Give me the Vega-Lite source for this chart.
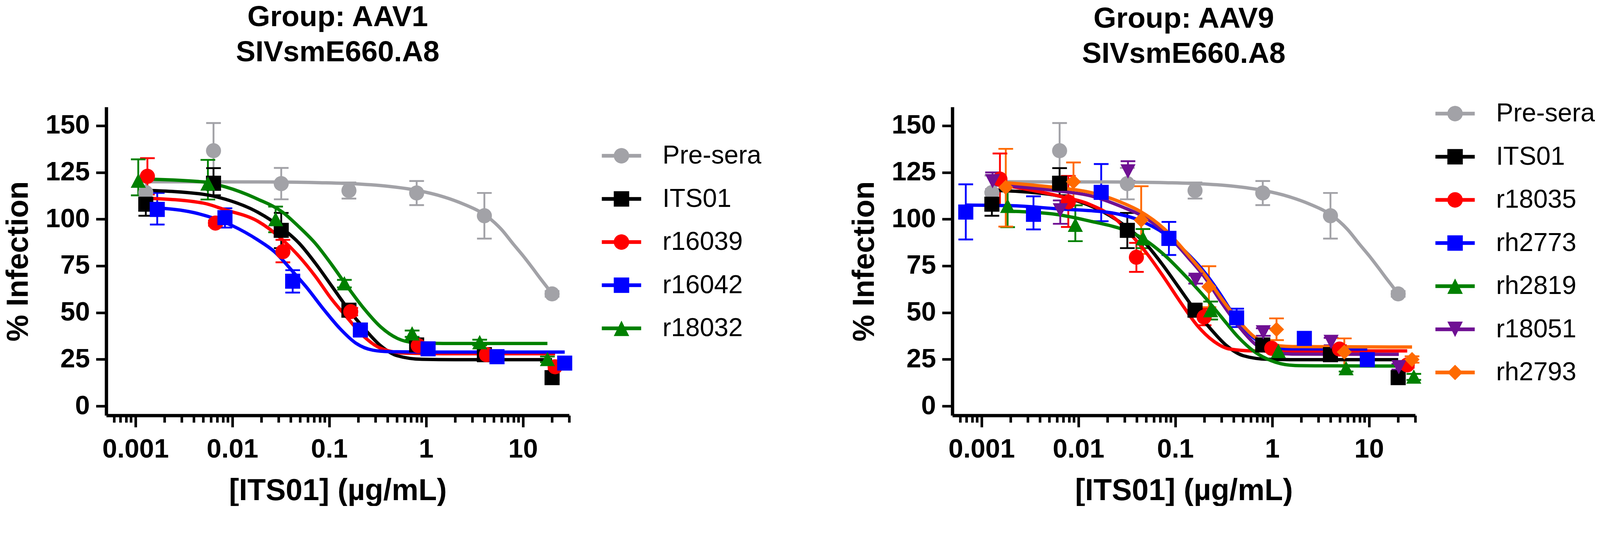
{
  "$schema": "https://vega.github.io/schema/vega-lite/v6.json",
  "background": "white",
  "padding": {"left": 8, "top": 7, "right": 0, "bottom": 0},
  "config": {
    "view": {"stroke": null},
    "font": "Liberation Sans",
    "axis": {
      "grid": false,
      "domainColor": "black",
      "domainWidth": 8.5,
      "tickColor": "black",
      "tickWidth": 6.6,
      "labelFont": "Liberation Sans",
      "labelFontSize": 68,
      "labelFontWeight": "bold",
      "labelColor": "black",
      "labelLimit": 1000,
      "titleFont": "Liberation Sans",
      "titleFontSize": 77,
      "titleFontWeight": "bold",
      "titleColor": "black",
      "titleLimit": 2000
    },
    "axisX": {"tickSize": 30, "labelPadding": 23.5, "titlePadding": 34, "labelFlush": false, "labelOverlap": false},
    "axisY": {"tickSize": 26.3, "labelPadding": 16, "titlePadding": 30},
    "legend": {
      "orient": "none",
      "direction": "vertical",
      "labelFont": "Liberation Sans",
      "labelFontSize": 66,
      "labelColor": "black",
      "labelLimit": 1000,
      "labelOffset": 72,
      "rowPadding": 44.5,
      "padding": 0,
      "symbolSize": 1560,
      "symbolStrokeWidth": 0,
      "symbolOpacity": 1
    }
  },
  "datasets": {
    "pts": [
      {"p": "B", "s": "Pre-sera", "x": 0.00128, "y": 114.2, "lo": 105.5, "hi": 123.3},
      {"p": "B", "s": "Pre-sera", "x": 0.0064, "y": 136.6, "lo": 121.8, "hi": 151.4},
      {"p": "B", "s": "Pre-sera", "x": 0.032, "y": 119.0, "lo": 110.6, "hi": 127.4},
      {"p": "B", "s": "Pre-sera", "x": 0.16, "y": 115.3, "lo": 111.0, "hi": 119.6},
      {"p": "B", "s": "Pre-sera", "x": 0.8, "y": 114.0, "lo": 107.5, "hi": 120.4},
      {"p": "B", "s": "Pre-sera", "x": 4, "y": 101.8, "lo": 89.6, "hi": 114.0},
      {"p": "B", "s": "Pre-sera", "x": 20, "y": 60.0, "lo": 58.5, "hi": 61.5},
      {"p": "B", "s": "ITS01", "x": 0.00128, "y": 108.0, "lo": 101.8, "hi": 114.5},
      {"p": "B", "s": "ITS01", "x": 0.0064, "y": 119.2, "lo": 112.8, "hi": 127.3},
      {"p": "B", "s": "ITS01", "x": 0.032, "y": 94.0, "lo": 84.5, "hi": 103.3},
      {"p": "B", "s": "ITS01", "x": 0.16, "y": 51.3, "lo": 49.3, "hi": 53.3},
      {"p": "B", "s": "ITS01", "x": 0.8, "y": 32.7, "lo": 31.0, "hi": 34.4},
      {"p": "B", "s": "ITS01", "x": 4, "y": 27.5, "lo": 26.0, "hi": 29.0},
      {"p": "B", "s": "ITS01", "x": 20, "y": 15.2, "lo": 13.7, "hi": 16.7},
      {"p": "L", "s": "r16039", "x": 0.00133, "y": 122.9, "lo": 113.2, "hi": 132.6},
      {"p": "L", "s": "r16039", "x": 0.0067, "y": 97.9, "lo": 96.5, "hi": 99.3},
      {"p": "L", "s": "r16039", "x": 0.0333, "y": 82.6, "lo": 76.9, "hi": 88.9},
      {"p": "L", "s": "r16039", "x": 0.167, "y": 50.5, "lo": 48.5, "hi": 52.5},
      {"p": "L", "s": "r16039", "x": 0.83, "y": 32.3, "lo": 31.0, "hi": 33.6},
      {"p": "L", "s": "r16039", "x": 4.2, "y": 27.5, "lo": 26.0, "hi": 29.0},
      {"p": "L", "s": "r16039", "x": 21.5, "y": 21.0, "lo": 19.5, "hi": 22.5},
      {"p": "L", "s": "r16042", "x": 0.00168, "y": 105.2, "lo": 97.1, "hi": 114.0},
      {"p": "L", "s": "r16042", "x": 0.0084, "y": 100.8, "lo": 95.5, "hi": 105.8},
      {"p": "L", "s": "r16042", "x": 0.042, "y": 66.8, "lo": 60.7, "hi": 72.7},
      {"p": "L", "s": "r16042", "x": 0.21, "y": 40.7, "lo": 39.0, "hi": 42.4},
      {"p": "L", "s": "r16042", "x": 1.05, "y": 30.6, "lo": 29.0, "hi": 32.2},
      {"p": "L", "s": "r16042", "x": 5.4, "y": 26.4, "lo": 24.9, "hi": 27.9},
      {"p": "L", "s": "r16042", "x": 27, "y": 23.0, "lo": 21.5, "hi": 24.5},
      {"p": "L", "s": "r18032", "x": 0.00107, "y": 120.4, "lo": 112.7, "hi": 132.0},
      {"p": "L", "s": "r18032", "x": 0.0056, "y": 118.9, "lo": 110.5, "hi": 131.7},
      {"p": "L", "s": "r18032", "x": 0.028, "y": 99.8, "lo": 93.0, "hi": 106.7},
      {"p": "L", "s": "r18032", "x": 0.1436, "y": 65.5, "lo": 63.5, "hi": 67.5},
      {"p": "L", "s": "r18032", "x": 0.718, "y": 38.7, "lo": 37.0, "hi": 40.4},
      {"p": "L", "s": "r18032", "x": 3.58, "y": 34.0, "lo": 32.5, "hi": 35.5},
      {"p": "L", "s": "r18032", "x": 17.9, "y": 25.0, "lo": 23.5, "hi": 26.5},
      {"p": "R", "s": "r18035", "x": 0.00155, "y": 121.4, "lo": 107.4, "hi": 135.1},
      {"p": "R", "s": "r18035", "x": 0.00787, "y": 109.2, "lo": 95.8, "hi": 123.1},
      {"p": "R", "s": "r18035", "x": 0.0397, "y": 79.6, "lo": 71.8, "hi": 87.3},
      {"p": "R", "s": "r18035", "x": 0.1985, "y": 47.6, "lo": 43.2, "hi": 52.0},
      {"p": "R", "s": "r18035", "x": 0.99, "y": 30.9, "lo": 29.0, "hi": 32.8},
      {"p": "R", "s": "r18035", "x": 4.96, "y": 30.5, "lo": 28.5, "hi": 32.5},
      {"p": "R", "s": "r18035", "x": 24.8, "y": 22.0, "lo": 20.5, "hi": 23.5},
      {"p": "R", "s": "rh2773", "x": 0.000688, "y": 103.8, "lo": 89.1, "hi": 118.6},
      {"p": "R", "s": "rh2773", "x": 0.00344, "y": 102.6, "lo": 94.5, "hi": 112.2},
      {"p": "R", "s": "rh2773", "x": 0.0172, "y": 114.3, "lo": 98.9, "hi": 129.5},
      {"p": "R", "s": "rh2773", "x": 0.086, "y": 89.7, "lo": 80.8, "hi": 98.5},
      {"p": "R", "s": "rh2773", "x": 0.43, "y": 47.2, "lo": 42.3, "hi": 52.1},
      {"p": "R", "s": "rh2773", "x": 2.15, "y": 36.2, "lo": 34.5, "hi": 37.9},
      {"p": "R", "s": "rh2773", "x": 9.6, "y": 24.8, "lo": 23.1, "hi": 26.5},
      {"p": "R", "s": "rh2819", "x": 0.00186, "y": 106.9, "lo": 95.7, "hi": 119.6},
      {"p": "R", "s": "rh2819", "x": 0.0093, "y": 96.8, "lo": 88.2, "hi": 107.4},
      {"p": "R", "s": "rh2819", "x": 0.0465, "y": 89.6, "lo": 84.5, "hi": 94.7},
      {"p": "R", "s": "rh2819", "x": 0.232, "y": 51.1, "lo": 46.3, "hi": 55.9},
      {"p": "R", "s": "rh2819", "x": 1.16, "y": 29.3, "lo": 27.6, "hi": 31.0},
      {"p": "R", "s": "rh2819", "x": 5.8, "y": 20.1, "lo": 18.5, "hi": 21.7},
      {"p": "R", "s": "rh2819", "x": 29, "y": 15.6, "lo": 14.0, "hi": 17.2},
      {"p": "R", "s": "r18051", "x": 0.0013, "y": 120.5, "lo": 116.0, "hi": 125.0},
      {"p": "R", "s": "r18051", "x": 0.0065, "y": 104.9, "lo": 97.5, "hi": 110.0},
      {"p": "R", "s": "r18051", "x": 0.0325, "y": 125.7, "lo": 120.4, "hi": 131.0},
      {"p": "R", "s": "r18051", "x": 0.1625, "y": 67.7, "lo": 65.5, "hi": 69.9},
      {"p": "R", "s": "r18051", "x": 0.81, "y": 39.6, "lo": 37.6, "hi": 41.6},
      {"p": "R", "s": "r18051", "x": 4.06, "y": 34.5, "lo": 32.5, "hi": 36.5},
      {"p": "R", "s": "r18051", "x": 20.3, "y": 21.0, "lo": 19.5, "hi": 22.5},
      {"p": "R", "s": "rh2793", "x": 0.00178, "y": 117.0, "lo": 96.0, "hi": 137.6},
      {"p": "R", "s": "rh2793", "x": 0.0089, "y": 120.0, "lo": 109.6, "hi": 130.3},
      {"p": "R", "s": "rh2793", "x": 0.0445, "y": 99.5, "lo": 81.4, "hi": 117.6},
      {"p": "R", "s": "rh2793", "x": 0.2225, "y": 63.8, "lo": 52.9, "hi": 74.8},
      {"p": "R", "s": "rh2793", "x": 1.11, "y": 41.0, "lo": 35.3, "hi": 46.9},
      {"p": "R", "s": "rh2793", "x": 5.56, "y": 28.9, "lo": 21.2, "hi": 36.2},
      {"p": "R", "s": "rh2793", "x": 27.8, "y": 24.9, "lo": 23.2, "hi": 26.6}
    ],
    "fit": [
      {"p": "B", "s": "Pre-sera", "x": 0.00128, "y": 120.0},
      {"p": "B", "s": "Pre-sera", "x": 0.02, "y": 119.9},
      {"p": "B", "s": "Pre-sera", "x": 0.08, "y": 119.5},
      {"p": "B", "s": "Pre-sera", "x": 0.2, "y": 118.8},
      {"p": "B", "s": "Pre-sera", "x": 0.4, "y": 117.6},
      {"p": "B", "s": "Pre-sera", "x": 0.8, "y": 115.4},
      {"p": "B", "s": "Pre-sera", "x": 1.5, "y": 112.0},
      {"p": "B", "s": "Pre-sera", "x": 2.5, "y": 107.8},
      {"p": "B", "s": "Pre-sera", "x": 4, "y": 102.5},
      {"p": "B", "s": "Pre-sera", "x": 6, "y": 94.5},
      {"p": "B", "s": "Pre-sera", "x": 8, "y": 86.5},
      {"p": "B", "s": "Pre-sera", "x": 10, "y": 80.5},
      {"p": "B", "s": "Pre-sera", "x": 12.5, "y": 74.0},
      {"p": "B", "s": "Pre-sera", "x": 15, "y": 68.5},
      {"p": "B", "s": "Pre-sera", "x": 17.5, "y": 64.0},
      {"p": "B", "s": "Pre-sera", "x": 20, "y": 60.0},
      {"p": "B", "s": "ITS01", "x": 0.00128, "y": 115.4},
      {"p": "B", "s": "ITS01", "x": 0.005, "y": 113.3},
      {"p": "B", "s": "ITS01", "x": 0.0084, "y": 110.7},
      {"p": "B", "s": "ITS01", "x": 0.0183, "y": 103.7},
      {"p": "B", "s": "ITS01", "x": 0.0331, "y": 94.9},
      {"p": "B", "s": "ITS01", "x": 0.049, "y": 87.1},
      {"p": "B", "s": "ITS01", "x": 0.0718, "y": 76.5},
      {"p": "B", "s": "ITS01", "x": 0.106, "y": 64.3},
      {"p": "B", "s": "ITS01", "x": 0.157, "y": 51.9},
      {"p": "B", "s": "ITS01", "x": 0.2307, "y": 41.4},
      {"p": "B", "s": "ITS01", "x": 0.341, "y": 32.2},
      {"p": "B", "s": "ITS01", "x": 0.506, "y": 26.9},
      {"p": "B", "s": "ITS01", "x": 0.908, "y": 25.0},
      {"p": "B", "s": "ITS01", "x": 2, "y": 24.8},
      {"p": "B", "s": "ITS01", "x": 20, "y": 24.8},
      {"p": "L", "s": "r16039", "x": 0.00133, "y": 111.2},
      {"p": "L", "s": "r16039", "x": 0.005, "y": 108.6},
      {"p": "L", "s": "r16039", "x": 0.0084, "y": 105.0},
      {"p": "L", "s": "r16039", "x": 0.0183, "y": 98.9},
      {"p": "L", "s": "r16039", "x": 0.0331, "y": 88.9},
      {"p": "L", "s": "r16039", "x": 0.049, "y": 80.0},
      {"p": "L", "s": "r16039", "x": 0.0718, "y": 69.5},
      {"p": "L", "s": "r16039", "x": 0.106, "y": 57.2},
      {"p": "L", "s": "r16039", "x": 0.157, "y": 46.7},
      {"p": "L", "s": "r16039", "x": 0.2307, "y": 37.0},
      {"p": "L", "s": "r16039", "x": 0.341, "y": 30.9},
      {"p": "L", "s": "r16039", "x": 0.614, "y": 28.3},
      {"p": "L", "s": "r16039", "x": 1.5, "y": 28.0},
      {"p": "L", "s": "r16039", "x": 21.5, "y": 28.0},
      {"p": "L", "s": "r16042", "x": 0.00168, "y": 106.0},
      {"p": "L", "s": "r16042", "x": 0.004, "y": 103.5},
      {"p": "L", "s": "r16042", "x": 0.01, "y": 96.5},
      {"p": "L", "s": "r16042", "x": 0.0183, "y": 88.9},
      {"p": "L", "s": "r16042", "x": 0.0272, "y": 82.6},
      {"p": "L", "s": "r16042", "x": 0.0419, "y": 72.1},
      {"p": "L", "s": "r16042", "x": 0.0589, "y": 63.3},
      {"p": "L", "s": "r16042", "x": 0.0873, "y": 51.9},
      {"p": "L", "s": "r16042", "x": 0.129, "y": 41.5},
      {"p": "L", "s": "r16042", "x": 0.1905, "y": 33.5},
      {"p": "L", "s": "r16042", "x": 0.282, "y": 29.9},
      {"p": "L", "s": "r16042", "x": 0.417, "y": 29.1},
      {"p": "L", "s": "r16042", "x": 1, "y": 28.9},
      {"p": "L", "s": "r16042", "x": 27, "y": 28.9},
      {"p": "L", "s": "r18032", "x": 0.00107, "y": 121.5},
      {"p": "L", "s": "r18032", "x": 0.005, "y": 119.9},
      {"p": "L", "s": "r18032", "x": 0.0084, "y": 117.3},
      {"p": "L", "s": "r18032", "x": 0.0183, "y": 110.7},
      {"p": "L", "s": "r18032", "x": 0.0331, "y": 103.7},
      {"p": "L", "s": "r18032", "x": 0.049, "y": 95.8},
      {"p": "L", "s": "r18032", "x": 0.0718, "y": 87.1},
      {"p": "L", "s": "r18032", "x": 0.106, "y": 75.7},
      {"p": "L", "s": "r18032", "x": 0.157, "y": 63.3},
      {"p": "L", "s": "r18032", "x": 0.2307, "y": 51.9},
      {"p": "L", "s": "r18032", "x": 0.341, "y": 42.3},
      {"p": "L", "s": "r18032", "x": 0.506, "y": 36.2},
      {"p": "L", "s": "r18032", "x": 0.743, "y": 34.0},
      {"p": "L", "s": "r18032", "x": 1.5, "y": 33.5},
      {"p": "L", "s": "r18032", "x": 17.9, "y": 33.5},
      {"p": "R", "s": "r18035", "x": 0.00155, "y": 118.5},
      {"p": "R", "s": "r18035", "x": 0.00614, "y": 112.5},
      {"p": "R", "s": "r18035", "x": 0.0133, "y": 107.7},
      {"p": "R", "s": "r18035", "x": 0.0239, "y": 100.3},
      {"p": "R", "s": "r18035", "x": 0.0353, "y": 91.4},
      {"p": "R", "s": "r18035", "x": 0.0522, "y": 80.9},
      {"p": "R", "s": "r18035", "x": 0.0769, "y": 68.6},
      {"p": "R", "s": "r18035", "x": 0.1138, "y": 55.4},
      {"p": "R", "s": "r18035", "x": 0.1679, "y": 43.2},
      {"p": "R", "s": "r18035", "x": 0.2477, "y": 34.8},
      {"p": "R", "s": "r18035", "x": 0.3656, "y": 30.5},
      {"p": "R", "s": "r18035", "x": 0.656, "y": 29.5},
      {"p": "R", "s": "r18035", "x": 24.8, "y": 29.5},
      {"p": "R", "s": "rh2773", "x": 0.000688, "y": 107.5},
      {"p": "R", "s": "rh2773", "x": 0.002, "y": 107.2},
      {"p": "R", "s": "rh2773", "x": 0.00614, "y": 105.5},
      {"p": "R", "s": "rh2773", "x": 0.0197, "y": 103.7},
      {"p": "R", "s": "rh2773", "x": 0.043, "y": 99.3},
      {"p": "R", "s": "rh2773", "x": 0.0769, "y": 92.3},
      {"p": "R", "s": "rh2773", "x": 0.1377, "y": 80.9},
      {"p": "R", "s": "rh2773", "x": 0.2032, "y": 71.2},
      {"p": "R", "s": "rh2773", "x": 0.2999, "y": 58.9},
      {"p": "R", "s": "rh2773", "x": 0.3656, "y": 51.9},
      {"p": "R", "s": "rh2773", "x": 0.4446, "y": 45.8},
      {"p": "R", "s": "rh2773", "x": 0.656, "y": 36.2},
      {"p": "R", "s": "rh2773", "x": 0.966, "y": 31.6},
      {"p": "R", "s": "rh2773", "x": 1.5, "y": 30.6},
      {"p": "R", "s": "rh2773", "x": 9.6, "y": 30.5},
      {"p": "R", "s": "rh2819", "x": 0.00186, "y": 104.3},
      {"p": "R", "s": "rh2819", "x": 0.00614, "y": 102.4},
      {"p": "R", "s": "rh2819", "x": 0.0133, "y": 98.9},
      {"p": "R", "s": "rh2819", "x": 0.0269, "y": 95.0},
      {"p": "R", "s": "rh2819", "x": 0.043, "y": 90.6},
      {"p": "R", "s": "rh2819", "x": 0.0769, "y": 80.9},
      {"p": "R", "s": "rh2819", "x": 0.1377, "y": 67.7},
      {"p": "R", "s": "rh2819", "x": 0.2032, "y": 58.1},
      {"p": "R", "s": "rh2819", "x": 0.2999, "y": 47.6},
      {"p": "R", "s": "rh2819", "x": 0.4446, "y": 37.0},
      {"p": "R", "s": "rh2819", "x": 0.656, "y": 29.1},
      {"p": "R", "s": "rh2819", "x": 0.966, "y": 24.4},
      {"p": "R", "s": "rh2819", "x": 1.734, "y": 21.7},
      {"p": "R", "s": "rh2819", "x": 4, "y": 21.5},
      {"p": "R", "s": "rh2819", "x": 29, "y": 21.4},
      {"p": "R", "s": "r18051", "x": 0.0013, "y": 118.5},
      {"p": "R", "s": "r18051", "x": 0.00614, "y": 115.1},
      {"p": "R", "s": "r18051", "x": 0.0133, "y": 112.5},
      {"p": "R", "s": "r18051", "x": 0.0291, "y": 106.3},
      {"p": "R", "s": "r18051", "x": 0.043, "y": 102.4},
      {"p": "R", "s": "r18051", "x": 0.0769, "y": 93.2},
      {"p": "R", "s": "r18051", "x": 0.1377, "y": 79.1},
      {"p": "R", "s": "r18051", "x": 0.2032, "y": 68.6},
      {"p": "R", "s": "r18051", "x": 0.2999, "y": 55.4},
      {"p": "R", "s": "r18051", "x": 0.4446, "y": 43.2},
      {"p": "R", "s": "r18051", "x": 0.656, "y": 33.5},
      {"p": "R", "s": "r18051", "x": 0.966, "y": 28.7},
      {"p": "R", "s": "r18051", "x": 1.734, "y": 27.8},
      {"p": "R", "s": "r18051", "x": 20.3, "y": 27.7},
      {"p": "R", "s": "rh2793", "x": 0.00178, "y": 119.5},
      {"p": "R", "s": "rh2793", "x": 0.00614, "y": 116.8},
      {"p": "R", "s": "rh2793", "x": 0.0133, "y": 114.3},
      {"p": "R", "s": "rh2793", "x": 0.0291, "y": 108.5},
      {"p": "R", "s": "rh2793", "x": 0.043, "y": 104.3},
      {"p": "R", "s": "rh2793", "x": 0.0769, "y": 94.8},
      {"p": "R", "s": "rh2793", "x": 0.1377, "y": 80.5},
      {"p": "R", "s": "rh2793", "x": 0.2032, "y": 70.0},
      {"p": "R", "s": "rh2793", "x": 0.2999, "y": 57.5},
      {"p": "R", "s": "rh2793", "x": 0.4446, "y": 46.0},
      {"p": "R", "s": "rh2793", "x": 0.656, "y": 37.0},
      {"p": "R", "s": "rh2793", "x": 0.966, "y": 32.8},
      {"p": "R", "s": "rh2793", "x": 1.734, "y": 31.8},
      {"p": "R", "s": "rh2793", "x": 27.8, "y": 31.6}
    ]
  },
  "spacing": 224,
  "resolve": {"scale": {"color": "independent", "shape": "independent"}, "legend": {"color": "independent", "shape": "independent"}},
  "hconcat": [
    {
      "width": 1185,
      "height": 790,
      "title": {"text": ["Group: AAV1", "SIVsmE660.A8"], "fontSize": 75, "font": "Liberation Sans", "fontWeight": "bold", "lineHeight": 90, "anchor": "middle", "frame": "group", "baseline": "bottom", "offset": 26, "color": "black"},
      "resolve": {"scale": {"color": "independent", "shape": "independent"}},
      "layer": [
        {
          "data": {"name": "pts"},
          "transform": [{"filter": "datum.p === 'B' || datum.p === 'L'"}],
          "mark": {"type": "rule", "strokeWidth": 4.7},
          "encoding": {
            "x": {"field": "x", "type": "quantitative", "title": "[ITS01] (µg/mL)", "scale": {"type": "log", "domain": [0.0005, 30], "nice": false},
              "axis": {
                "values": [0.0006, 0.0007, 0.0008, 0.0009, 0.001, 0.002, 0.003, 0.004, 0.005, 0.006, 0.007, 0.008, 0.009, 0.01, 0.02, 0.03, 0.04, 0.05, 0.06, 0.07, 0.08, 0.09, 0.1, 0.2, 0.3, 0.4, 0.5, 0.6, 0.7, 0.8, 0.9, 1, 2, 3, 4, 5, 6, 7, 8, 9, 10, 20, 30],
                "labelExpr": "indexof([0.001, 0.01, 0.1, 1, 10], datum.value) >= 0 ? format(datum.value, '~g') : ''",
                "tickDash": {"condition": {"test": "indexof([0.001, 0.01, 0.1, 1, 10], datum.value) >= 0", "value": []}, "value": [18, 60]}
              }},
            "y": {"field": "lo", "type": "quantitative", "title": "% Infection", "scale": {"domain": [-5, 160], "nice": false, "zero": false}, "axis": {"values": [0, 25, 50, 75, 100, 125, 150]}},
            "y2": {"field": "hi"},
            "color": {"field": "s", "type": "nominal", "legend": null, "scale": {"domain": ["Pre-sera", "ITS01", "r16039", "r16042", "r18032"], "range": ["#a2a2a7", "#000000", "#ff0000", "#0000ff", "#008000"]}}
          }
        },
        {
          "data": {"name": "pts"},
          "transform": [{"filter": "datum.p === 'B' || datum.p === 'L'"}],
          "mark": {"type": "tick", "orient": "horizontal", "size": 37.6, "thickness": 4.7, "opacity": 1},
          "encoding": {
            "x": {"field": "x", "type": "quantitative", "title": "[ITS01] (µg/mL)", "scale": {"type": "log", "domain": [0.0005, 30], "nice": false}},
            "y": {"field": "lo", "type": "quantitative", "title": "% Infection", "scale": {"domain": [-5, 160], "nice": false, "zero": false}},
            "color": {"field": "s", "type": "nominal", "legend": null, "scale": {"domain": ["Pre-sera", "ITS01", "r16039", "r16042", "r18032"], "range": ["#a2a2a7", "#000000", "#ff0000", "#0000ff", "#008000"]}}
          }
        },
        {
          "data": {"name": "pts"},
          "transform": [{"filter": "datum.p === 'B' || datum.p === 'L'"}],
          "mark": {"type": "tick", "orient": "horizontal", "size": 37.6, "thickness": 4.7, "opacity": 1},
          "encoding": {
            "x": {"field": "x", "type": "quantitative", "title": "[ITS01] (µg/mL)", "scale": {"type": "log", "domain": [0.0005, 30], "nice": false}},
            "y": {"field": "hi", "type": "quantitative", "title": "% Infection", "scale": {"domain": [-5, 160], "nice": false, "zero": false}},
            "color": {"field": "s", "type": "nominal", "legend": null, "scale": {"domain": ["Pre-sera", "ITS01", "r16039", "r16042", "r18032"], "range": ["#a2a2a7", "#000000", "#ff0000", "#0000ff", "#008000"]}}
          }
        },
        {
          "data": {"name": "fit"},
          "transform": [{"filter": "datum.p === 'B' || datum.p === 'L'"}],
          "mark": {"type": "line", "strokeWidth": 8.5, "interpolate": "monotone"},
          "encoding": {
            "x": {"field": "x", "type": "quantitative", "title": "[ITS01] (µg/mL)", "scale": {"type": "log", "domain": [0.0005, 30], "nice": false}},
            "y": {"field": "y", "type": "quantitative", "title": "% Infection", "scale": {"domain": [-5, 160], "nice": false, "zero": false}},
            "color": {"field": "s", "type": "nominal", "legend": null, "scale": {"domain": ["Pre-sera", "ITS01", "r16039", "r16042", "r18032"], "range": ["#a2a2a7", "#000000", "#ff0000", "#0000ff", "#008000"]}}
          }
        },
        {
          "data": {"name": "pts"},
          "transform": [{"filter": "datum.p === 'B' || datum.p === 'L'"}],
          "mark": {"type": "point", "filled": true, "size": 1490, "opacity": 1, "strokeWidth": 0},
          "encoding": {
            "x": {"field": "x", "type": "quantitative", "title": "[ITS01] (µg/mL)", "scale": {"type": "log", "domain": [0.0005, 30], "nice": false}},
            "y": {"field": "y", "type": "quantitative", "title": "% Infection", "scale": {"domain": [-5, 160], "nice": false, "zero": false}},
            "color": {"field": "s", "type": "nominal", "legend": null, "scale": {"domain": ["Pre-sera", "ITS01", "r16039", "r16042", "r18032"], "range": ["#a2a2a7", "#000000", "#ff0000", "#0000ff", "#008000"]}},
            "shape": {"field": "s", "type": "nominal", "legend": null, "scale": {"domain": ["Pre-sera", "ITS01", "r16039", "r16042", "r18032"], "range": ["circle", "square", "circle", "square", "M0,-1L1,0.9H-1Z"]}}
          }
        },
        {
          "data": {"name": "pts"},
          "transform": [{"filter": "false"}],
          "mark": {"type": "point", "filled": true, "opacity": 1},
          "encoding": {
            "color": {"field": "s", "type": "nominal", "scale": {"domain": ["Pre-sera", "ITS01", "r16039", "r16042", "r18032"], "range": ["#a2a2a7", "#000000", "#ff0000", "#0000ff", "#008000"]},
              "legend": {"title": null, "orient": "none", "legendX": 1286, "legendY": 92}},
            "shape": {"field": "s", "type": "nominal", "scale": {"domain": ["Pre-sera", "ITS01", "r16039", "r16042", "r18032"], "range": [
                "M-2.55,-0.24H2.55V0.24H-2.55Z M-1,0A1,1 0 1,1 1,0A1,1 0 1,1 -1,0Z",
                "M-2.55,-0.24H2.55V0.24H-2.55Z M-1,-1H1V1H-1Z",
                "M-2.55,-0.24H2.55V0.24H-2.55Z M-1,0A1,1 0 1,1 1,0A1,1 0 1,1 -1,0Z",
                "M-2.55,-0.24H2.55V0.24H-2.55Z M-1,-1H1V1H-1Z",
                "M-2.55,-0.24H2.55V0.24H-2.55Z M0,-1L1,1H-1Z"]},
              "legend": {"title": null, "orient": "none", "legendX": 1286, "legendY": 92}}
          }
        }
      ]
    },
    {
      "width": 1185,
      "height": 790,
      "title": {"text": ["Group: AAV9", "SIVsmE660.A8"], "fontSize": 75, "font": "Liberation Sans", "fontWeight": "bold", "lineHeight": 90, "anchor": "middle", "frame": "group", "baseline": "bottom", "offset": 6, "color": "black"},
      "resolve": {"scale": {"color": "independent", "shape": "independent"}},
      "layer": [
        {
          "data": {"name": "pts"},
          "transform": [{"filter": "datum.p === 'B' || datum.p === 'R'"}],
          "mark": {"type": "rule", "strokeWidth": 4.7},
          "encoding": {
            "x": {"field": "x", "type": "quantitative", "title": "[ITS01] (µg/mL)", "scale": {"type": "log", "domain": [0.0005, 30], "nice": false},
              "axis": {
                "values": [0.0006, 0.0007, 0.0008, 0.0009, 0.001, 0.002, 0.003, 0.004, 0.005, 0.006, 0.007, 0.008, 0.009, 0.01, 0.02, 0.03, 0.04, 0.05, 0.06, 0.07, 0.08, 0.09, 0.1, 0.2, 0.3, 0.4, 0.5, 0.6, 0.7, 0.8, 0.9, 1, 2, 3, 4, 5, 6, 7, 8, 9, 10, 20, 30],
                "labelExpr": "indexof([0.001, 0.01, 0.1, 1, 10], datum.value) >= 0 ? format(datum.value, '~g') : ''",
                "tickDash": {"condition": {"test": "indexof([0.001, 0.01, 0.1, 1, 10], datum.value) >= 0", "value": []}, "value": [18, 60]}
              }},
            "y": {"field": "lo", "type": "quantitative", "title": "% Infection", "scale": {"domain": [-5, 160], "nice": false, "zero": false}, "axis": {"values": [0, 25, 50, 75, 100, 125, 150]}},
            "y2": {"field": "hi"},
            "color": {"field": "s", "type": "nominal", "legend": null, "scale": {"domain": ["Pre-sera", "ITS01", "r18035", "rh2773", "rh2819", "r18051", "rh2793"], "range": ["#a2a2a7", "#000000", "#ff0000", "#0000ff", "#008000", "#6f1093", "#ff6a00"]}}
          }
        },
        {
          "data": {"name": "pts"},
          "transform": [{"filter": "datum.p === 'B' || datum.p === 'R'"}],
          "mark": {"type": "tick", "orient": "horizontal", "size": 37.6, "thickness": 4.7, "opacity": 1},
          "encoding": {
            "x": {"field": "x", "type": "quantitative", "title": "[ITS01] (µg/mL)", "scale": {"type": "log", "domain": [0.0005, 30], "nice": false}},
            "y": {"field": "lo", "type": "quantitative", "title": "% Infection", "scale": {"domain": [-5, 160], "nice": false, "zero": false}},
            "color": {"field": "s", "type": "nominal", "legend": null, "scale": {"domain": ["Pre-sera", "ITS01", "r18035", "rh2773", "rh2819", "r18051", "rh2793"], "range": ["#a2a2a7", "#000000", "#ff0000", "#0000ff", "#008000", "#6f1093", "#ff6a00"]}}
          }
        },
        {
          "data": {"name": "pts"},
          "transform": [{"filter": "datum.p === 'B' || datum.p === 'R'"}],
          "mark": {"type": "tick", "orient": "horizontal", "size": 37.6, "thickness": 4.7, "opacity": 1},
          "encoding": {
            "x": {"field": "x", "type": "quantitative", "title": "[ITS01] (µg/mL)", "scale": {"type": "log", "domain": [0.0005, 30], "nice": false}},
            "y": {"field": "hi", "type": "quantitative", "title": "% Infection", "scale": {"domain": [-5, 160], "nice": false, "zero": false}},
            "color": {"field": "s", "type": "nominal", "legend": null, "scale": {"domain": ["Pre-sera", "ITS01", "r18035", "rh2773", "rh2819", "r18051", "rh2793"], "range": ["#a2a2a7", "#000000", "#ff0000", "#0000ff", "#008000", "#6f1093", "#ff6a00"]}}
          }
        },
        {
          "data": {"name": "fit"},
          "transform": [{"filter": "datum.p === 'B' || datum.p === 'R'"}],
          "mark": {"type": "line", "strokeWidth": 8.5, "interpolate": "monotone"},
          "encoding": {
            "x": {"field": "x", "type": "quantitative", "title": "[ITS01] (µg/mL)", "scale": {"type": "log", "domain": [0.0005, 30], "nice": false}},
            "y": {"field": "y", "type": "quantitative", "title": "% Infection", "scale": {"domain": [-5, 160], "nice": false, "zero": false}},
            "color": {"field": "s", "type": "nominal", "legend": null, "scale": {"domain": ["Pre-sera", "ITS01", "r18035", "rh2773", "rh2819", "r18051", "rh2793"], "range": ["#a2a2a7", "#000000", "#ff0000", "#0000ff", "#008000", "#6f1093", "#ff6a00"]}}
          }
        },
        {
          "data": {"name": "pts"},
          "transform": [{"filter": "datum.p === 'B' || datum.p === 'R'"}],
          "mark": {"type": "point", "filled": true, "size": 1490, "opacity": 1, "strokeWidth": 0},
          "encoding": {
            "x": {"field": "x", "type": "quantitative", "title": "[ITS01] (µg/mL)", "scale": {"type": "log", "domain": [0.0005, 30], "nice": false}},
            "y": {"field": "y", "type": "quantitative", "title": "% Infection", "scale": {"domain": [-5, 160], "nice": false, "zero": false}},
            "color": {"field": "s", "type": "nominal", "legend": null, "scale": {"domain": ["Pre-sera", "ITS01", "r18035", "rh2773", "rh2819", "r18051", "rh2793"], "range": ["#a2a2a7", "#000000", "#ff0000", "#0000ff", "#008000", "#6f1093", "#ff6a00"]}},
            "shape": {"field": "s", "type": "nominal", "legend": null, "scale": {"domain": ["Pre-sera", "ITS01", "r18035", "rh2773", "rh2819", "r18051", "rh2793"], "range": ["circle", "square", "circle", "square", "M0,-1L1,0.9H-1Z", "M-1,-0.9H1L0,1Z", "diamond"]}}
          }
        },
        {
          "data": {"name": "pts"},
          "transform": [{"filter": "false"}],
          "mark": {"type": "point", "filled": true, "opacity": 1},
          "encoding": {
            "color": {"field": "s", "type": "nominal", "scale": {"domain": ["Pre-sera", "ITS01", "r18035", "rh2773", "rh2819", "r18051", "rh2793"], "range": ["#a2a2a7", "#000000", "#ff0000", "#0000ff", "#008000", "#6f1093", "#ff6a00"]},
              "legend": {"title": null, "orient": "none", "legendX": 1254, "legendY": -16}},
            "shape": {"field": "s", "type": "nominal", "scale": {"domain": ["Pre-sera", "ITS01", "r18035", "rh2773", "rh2819", "r18051", "rh2793"], "range": [
                "M-2.55,-0.24H2.55V0.24H-2.55Z M-1,0A1,1 0 1,1 1,0A1,1 0 1,1 -1,0Z",
                "M-2.55,-0.24H2.55V0.24H-2.55Z M-1,-1H1V1H-1Z",
                "M-2.55,-0.24H2.55V0.24H-2.55Z M-1,0A1,1 0 1,1 1,0A1,1 0 1,1 -1,0Z",
                "M-2.55,-0.24H2.55V0.24H-2.55Z M-1,-1H1V1H-1Z",
                "M-2.55,-0.24H2.55V0.24H-2.55Z M0,-1L1,1H-1Z",
                "M-2.55,-0.24H2.55V0.24H-2.55Z M-1,-1H1L0,1Z",
                "M-2.55,-0.24H2.55V0.24H-2.55Z M0,-1L1,0L0,1L-1,0Z"]},
              "legend": {"title": null, "orient": "none", "legendX": 1254, "legendY": -16}}
          }
        }
      ]
    }
  ]
}
